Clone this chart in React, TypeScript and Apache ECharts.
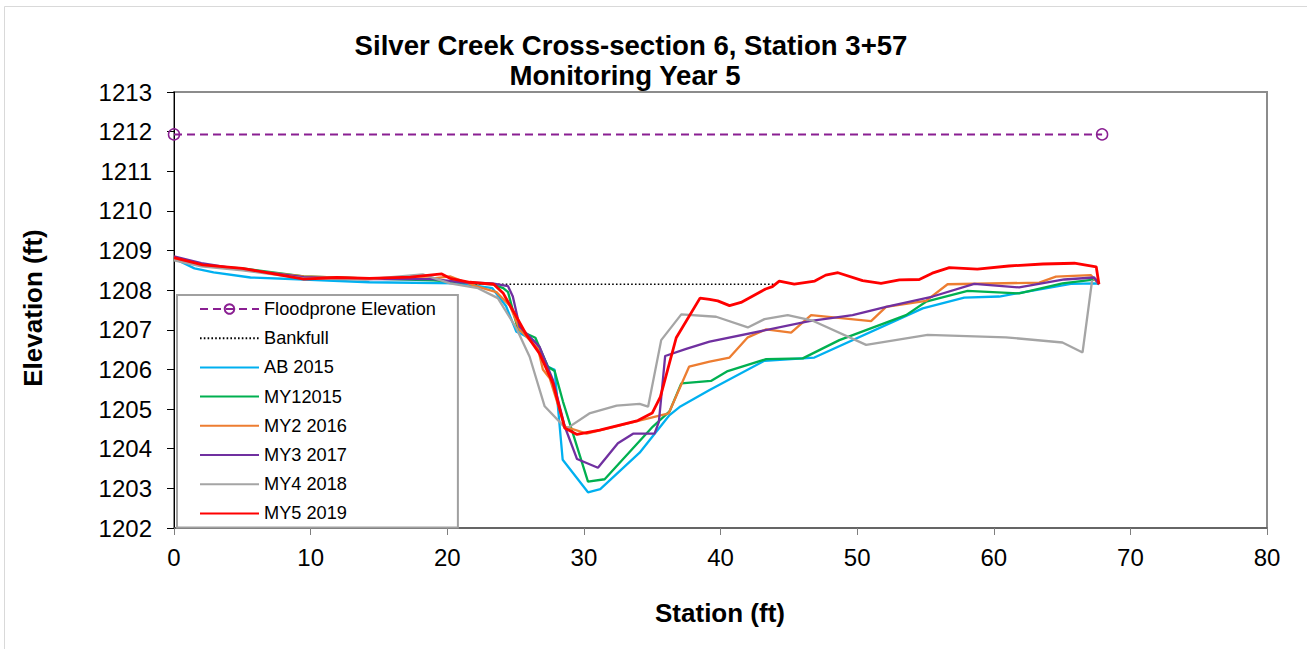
import React, { useEffect, useRef } from "react";
import * as echarts from "echarts";

const titleLines = ["Silver Creek Cross-section 6, Station 3+57", "Monitoring Year 5"];
const xTicks = { min: 0, max: 80, interval: 10 };
const yTicks = { min: 1202, max: 1213, interval: 1 };

const floodprone = [[0, 1211.93], [67.93, 1211.93]];
const bankfull = [[21.5, 1208.15], [43.95, 1208.15]];

const ab2015 = [
  [0, 1208.8], [1.5, 1208.55], [2.9, 1208.45], [5.6, 1208.32], [9.5, 1208.27], [14.3, 1208.2],
  [20.9, 1208.17], [23.3, 1208.05], [24.3, 1207.6], [25.06, 1206.95], [25.4, 1206.9], [26.5, 1206.7],
  [27.37, 1206.07], [27.86, 1205.99], [28.45, 1203.72], [30.3, 1202.9], [31.2, 1202.98], [34.08, 1203.9],
  [36.27, 1204.85], [37.0, 1205.05], [39.2, 1205.48], [43.22, 1206.22], [46.87, 1206.3], [54.8, 1207.54],
  [57.84, 1207.81], [60.4, 1207.84], [65.65, 1208.16], [67.47, 1208.17], [67.71, 1208.15],
];

const my1_2015 = [
  [0, 1208.78], [2, 1208.62], [5, 1208.55], [9.5, 1208.35], [14, 1208.3], [19, 1208.25], [21, 1208.2],
  [23.3, 1208.15], [24.1, 1208.05], [24.45, 1207.95], [25.18, 1207.0], [26.45, 1206.8], [27.37, 1206.07],
  [27.86, 1205.96], [28.47, 1205.19], [30.3, 1203.17], [31.52, 1203.23], [35.05, 1204.56], [36.27, 1204.94],
  [37.13, 1205.65], [39.3, 1205.71], [40.53, 1205.96], [43.34, 1206.26], [46.02, 1206.28], [48.7, 1206.74],
  [53.58, 1207.37], [55.04, 1207.71], [58.09, 1207.98], [61.86, 1207.92], [65.03, 1208.17], [67.47, 1208.27],
  [67.71, 1208.15],
];

const my2_2016 = [
  [0, 1208.78], [2, 1208.62], [5, 1208.52], [9.5, 1208.35], [14, 1208.3], [19, 1208.3], [20.2, 1208.35],
  [22.1, 1208.1], [23.6, 1207.95], [24.6, 1207.6], [25.3, 1207.0], [26.64, 1206.53], [27.0, 1206.0],
  [27.5, 1205.78], [28.6, 1204.56], [30.2, 1204.38], [36.2, 1204.89], [37.7, 1206.07], [39.2, 1206.2],
  [40.66, 1206.3], [42.0, 1206.81], [43.34, 1207.01], [45.17, 1206.93], [46.63, 1207.37], [51.02, 1207.22],
  [52.12, 1207.58], [55.04, 1207.73], [56.62, 1208.15], [63.33, 1208.19], [64.55, 1208.34], [67.1, 1208.38],
  [67.71, 1208.15],
];

const my3_2017 = [
  [0, 1208.85], [2, 1208.68], [5, 1208.52], [9.5, 1208.33], [14, 1208.28], [19, 1208.28], [21, 1208.2],
  [23.3, 1208.17], [24.45, 1208.1], [24.8, 1207.84], [25.3, 1207.08], [26.76, 1206.57], [27.74, 1205.73],
  [28.6, 1204.56], [29.5, 1203.74], [31.03, 1203.52], [32.49, 1204.14], [33.6, 1204.38], [35.17, 1204.38],
  [35.49, 1204.68], [35.95, 1206.34], [37.49, 1206.52], [39.2, 1206.7], [46.5, 1207.22], [49.67, 1207.37],
  [52.12, 1207.58], [55.53, 1207.84], [58.57, 1208.16], [61.86, 1208.07], [65.16, 1208.27], [67.35, 1208.32],
  [67.71, 1208.15],
];

const my4_2018 = [
  [0, 1208.75], [2, 1208.6], [5, 1208.5], [9.5, 1208.3], [14, 1208.27], [18.2, 1208.4], [20.2, 1208.17],
  [22.25, 1208.05], [23.7, 1207.8], [25.06, 1207.04], [26.03, 1206.32], [27.13, 1205.07], [28.71, 1204.5],
  [30.4, 1204.89], [32.4, 1205.09], [34.08, 1205.13], [34.7, 1205.06], [35.66, 1206.74], [37.13, 1207.39],
  [39.68, 1207.33], [42.0, 1207.06], [43.22, 1207.27], [44.92, 1207.37], [46.75, 1207.23], [50.66, 1206.62],
  [55.16, 1206.87], [60.89, 1206.81], [65.03, 1206.68], [66.5, 1206.43], [67.2, 1208.25],
];

const my5_2019 = [
  [0, 1208.82], [2.1, 1208.64], [5, 1208.55], [7, 1208.43], [9.5, 1208.28], [11.9, 1208.32], [14.3, 1208.3],
  [17.3, 1208.33], [19.6, 1208.41], [20.2, 1208.3], [21.65, 1208.2], [23.4, 1208.15], [24.1, 1207.92],
  [25.06, 1207.33], [25.8, 1206.87], [26.76, 1206.4], [27.74, 1205.65], [28.6, 1204.52], [29.5, 1204.36],
  [31.15, 1204.47], [33.95, 1204.71], [35.0, 1204.9], [35.6, 1205.31], [36.76, 1206.8], [38.5, 1207.8],
  [39.2, 1207.77], [39.8, 1207.73], [40.66, 1207.61], [41.5, 1207.69], [43.3, 1208.03], [43.8, 1208.09],
  [44.3, 1208.23], [45.4, 1208.15], [46.9, 1208.23], [47.7, 1208.38], [48.6, 1208.44], [50.4, 1208.24],
  [51.75, 1208.17], [53.1, 1208.26], [54.55, 1208.27], [55.5, 1208.43], [56.75, 1208.57], [58.8, 1208.53],
  [61.1, 1208.61], [63.6, 1208.66], [65.9, 1208.68], [67.5, 1208.59], [67.7, 1208.15],
];

const FONT = "'Liberation Sans', Arial, sans-serif";
const PURPLE = "#8a1f92";

function lineSeries(name: string, data: number[][], color: string, width = 2.3) {
  return {
    name,
    type: "line",
    data,
    symbol: "none",
    showSymbol: false,
    lineStyle: { color, width },
    itemStyle: { color },
    silent: true,
  };
}

export default function App() {
  const ref = useRef<HTMLDivElement>(null);
  useEffect(() => {
    if (!ref.current) return;
    const chart = echarts.init(ref.current, undefined, { renderer: "svg" });
    const option: any = {
      animation: false,
      backgroundColor: "#ffffff",
      grid: {
        left: 174,
        top: 92,
        width: 1093,
        height: 436,
        show: true,
        borderColor: "#8c8c8c",
        borderWidth: 2,
        backgroundColor: "transparent",
      },
      xAxis: {
        type: "value",
        min: xTicks.min,
        max: xTicks.max,
        interval: xTicks.interval,
        axisLine: { show: true, onZero: false, lineStyle: { color: "#595959", width: 1.5 } },
        axisTick: { show: true, inside: false, length: 7, lineStyle: { color: "#7f7f7f" } },
        axisLabel: { fontSize: 24, color: "#000", fontFamily: FONT, margin: 17, formatter: (v: number) => String(v) },
        splitLine: { show: false },
      },
      yAxis: {
        type: "value",
        min: yTicks.min,
        max: yTicks.max,
        interval: yTicks.interval,
        axisLine: { show: true, onZero: false, lineStyle: { color: "#000", width: 1 } },
        axisTick: { show: true, inside: false, length: 7, lineStyle: { color: "#000" } },
        axisLabel: { fontSize: 24, color: "#000", fontFamily: FONT, margin: 22, formatter: (v: number) => String(v) },
        splitLine: { show: false },
      },
      legend: {
        orient: "vertical",
        left: 177,
        top: 295,
        padding: [5, 22, 5, 22],
        itemWidth: 59,
        itemHeight: 12,
        itemGap: 11.2,
        backgroundColor: "#ffffff",
        borderColor: "#a0a0a0",
        borderWidth: 2,
        borderRadius: 0,
        textStyle: { fontSize: 18.2, color: "#000", fontFamily: FONT, lineHeight: 18 },
        data: [
          { name: "Floodprone Elevation" },
          { name: "Bankfull", itemStyle: { opacity: 0 } },
          { name: "AB 2015", itemStyle: { opacity: 0 } },
          { name: "MY12015", itemStyle: { opacity: 0 } },
          { name: "MY2 2016", itemStyle: { opacity: 0 } },
          { name: "MY3 2017", itemStyle: { opacity: 0 } },
          { name: "MY4 2018", itemStyle: { opacity: 0 } },
          { name: "MY5 2019", itemStyle: { opacity: 0 } },
        ],
        selectedMode: false,
      },
      graphic: [
        {
          type: "rect",
          silent: true,
          shape: { x: 4.5, y: 6.5, width: 1320, height: 660 },
          style: { fill: "none", stroke: "#d9d9d9", lineWidth: 1 },
          z: -10,
        },
        {
          type: "text",
          x: 631,
          y: 45,
          style: {
            text: titleLines[0],
            fontSize: 27.6,
            fontWeight: "bold",
            fontFamily: FONT,
            fill: "#000",
            textAlign: "center",
            textVerticalAlign: "middle",
          },
        },
        {
          type: "text",
          x: 625,
          y: 75,
          style: {
            text: titleLines[1],
            fontSize: 27.6,
            fontWeight: "bold",
            fontFamily: FONT,
            fill: "#000",
            textAlign: "center",
            textVerticalAlign: "middle",
          },
        },
        {
          type: "text",
          x: 33,
          y: 308,
          rotation: Math.PI / 2,
          style: {
            text: "Elevation (ft)",
            fontSize: 26,
            fontWeight: "bold",
            fontFamily: FONT,
            fill: "#000",
            textAlign: "center",
            textVerticalAlign: "middle",
          },
        },
        {
          type: "text",
          x: 720,
          y: 613,
          style: {
            text: "Station (ft)",
            fontSize: 26,
            fontWeight: "bold",
            fontFamily: FONT,
            fill: "#000",
            textAlign: "center",
            textVerticalAlign: "middle",
          },
        },
      ],
      series: [
        {
          name: "Floodprone Elevation",
          type: "line",
          data: floodprone,
          symbol: "circle",
          symbolSize: 11,
          showSymbol: true,
          itemStyle: { color: "rgba(255,255,255,0)", borderColor: PURPLE, borderWidth: 1.5 },
          lineStyle: { color: PURPLE, width: 2, type: [8, 5] },
          silent: true,
        },
        {
          name: "Bankfull",
          type: "line",
          data: bankfull,
          symbol: "none",
          showSymbol: false,
          itemStyle: { color: "#000" },
          lineStyle: { color: "#000", width: 1.6, type: [1.6, 2.2] },
          silent: true,
        },
        lineSeries("AB 2015", ab2015, "#00b0f0"),
        lineSeries("MY12015", my1_2015, "#00b050"),
        lineSeries("MY2 2016", my2_2016, "#ed7d31"),
        lineSeries("MY3 2017", my3_2017, "#7030a0"),
        lineSeries("MY4 2018", my4_2018, "#a5a5a5"),
        lineSeries("MY5 2019", my5_2019, "#ff0000", 2.8),
      ],
    };
    chart.setOption(option);
    return () => chart.dispose();
  }, []);
  return (
    <div
      ref={ref}
      style={{ position: "fixed", left: 0, top: 0, width: 1307, height: 649, background: "#fff" }}
    />
  );
}
